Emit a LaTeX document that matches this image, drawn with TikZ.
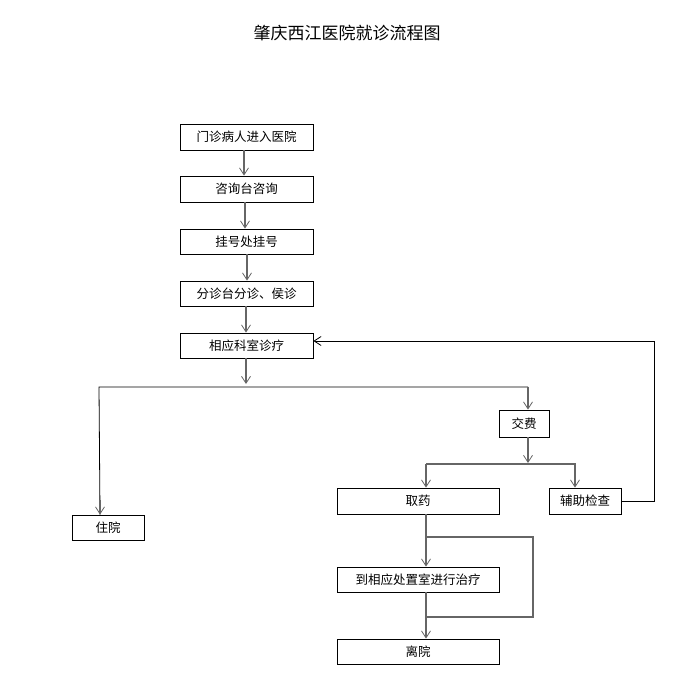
\documentclass[tikz,border=0pt]{standalone}
\usepackage{fontspec}
\setmainfont{Noto Sans CJK SC}
\usetikzlibrary{arrows.meta}
\begin{document}
\begin{tikzpicture}[x=1pt,y=-1pt,
  box/.style={draw=black,line width=0.8pt,inner sep=0pt,font=\fontsize{12.5}{14}\selectfont},
  ln/.style={draw=black!60,line width=1.3pt},
  arr/.style={ln,-{Straight Barb[length=7pt,width=9pt,line width=0.8pt]}}]
\useasboundingbox (0,0) rectangle (694,691);
\node[font=\fontsize{17}{20}\selectfont] (title) at (347,33) {肇庆西江医院就诊流程图};
\newcommand{\bx}[6]{\node[box,minimum width=#4-#3,minimum height=#6-#5] (#1) at ({(#3+#4)/2},{(#5+#6)/2}) {#2};}
\bx{b1}{门诊病人进入医院}{180}{313}{124}{150}
\bx{b2}{咨询台咨询}{180}{313}{176}{202}
\bx{b3}{挂号处挂号}{180}{313}{229}{254}
\bx{b4}{分诊台分诊、侯诊}{180}{313}{281}{306}
\bx{b5}{相应科室诊疗}{180}{313}{333}{358}
\bx{zy}{住院}{72}{144}{515}{540}
\bx{jf}{交费}{499}{549}{410}{437}
\bx{qy}{取药}{337}{499}{488}{514}
\bx{fz}{辅助检查}{549}{621}{488}{514}
\bx{zl}{到相应处置室进行治疗}{337}{499}{567}{592}
\bx{ly}{离院}{337}{499}{639}{664}
\draw[arr] (b1.south -| 244,0) -- (b2.north -| 244,0);
\draw[arr] (b2.south -| 245,0) -- (b3.north -| 245,0);
\draw[arr] (b3.south -| 247,0) -- (b4.north -| 247,0);
\draw[arr] (b4.south -| 246,0) -- (b5.north -| 246,0);
\coordinate (s5) at (246,384);
\draw[arr] (b5.south -| s5) -- (s5);
\draw[draw=black,line width=0.8pt] (zy.north -| 100,0) -- (99,387) -- (528,387);
\draw[arr] (100,500) -- (zy.north -| 100,0);
\draw[arr] (528,387) -- (jf.north -| 528,0);
\coordinate (j1) at (528,463);
\draw[arr] (jf.south -| j1) -- (j1);
\draw[ln] (426,464) -- (576,464);
\draw[arr] (426,464) -- (qy.north -| 426,0);
\draw[arr] (575,464) -- (fz.north -| 575,0);
\draw[draw=black,line width=0.8pt] (fz.east) -- (654,501) -- (654,341) -- (400,341);
\draw[draw=black,line width=0.8pt,-{Straight Barb[length=7pt,width=9pt,line width=0.8pt]}] (400,341) -- (b5.east |- 0,341);
\draw[arr] (qy.south -| 426,0) -- (zl.north -| 426,0);
\draw[ln] (426,537) -- (533,537) -- (533,617) -- (426,617);
\draw[arr] (zl.south -| 426,0) -- (ly.north -| 426,0);
\end{tikzpicture}
\end{document}
